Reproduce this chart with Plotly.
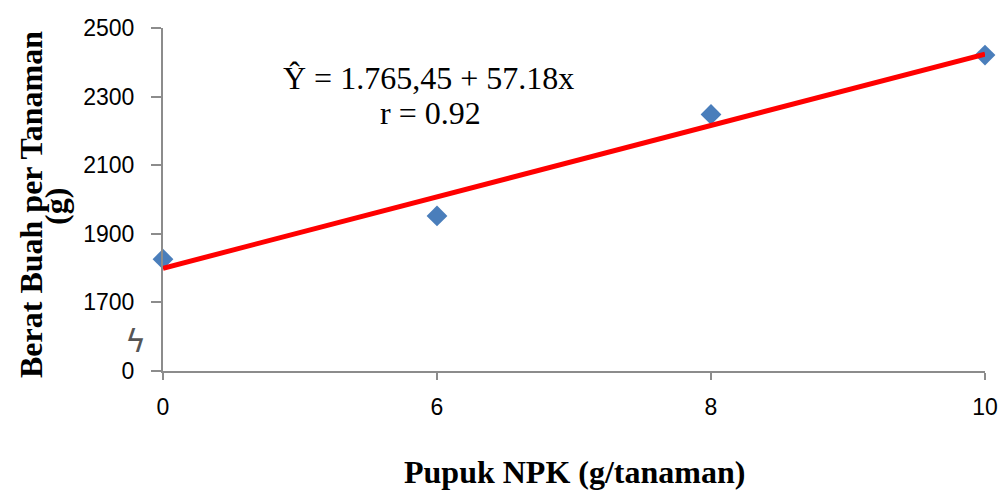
import numpy as np
import plotly.graph_objects as go

# Data
npk_categories = ["0", "6", "8", "10"]
berat_buah = [1826, 1952, 2248, 2421]
y_tick_values = [1500, 1700, 1900, 2100, 2300, 2500]
y_tick_labels = ["0", "1700", "1900", "2100", "2300", "2500"]
equation_text = "Ŷ = 1.765,45 + 57.18x"
r_text = "r = 0.92"

x_pos = list(range(len(npk_categories)))
slope, intercept = np.polyfit(x_pos, berat_buah, 1)
trend_y = [intercept + slope * x for x in x_pos]

fig = go.Figure()
fig.add_trace(go.Scatter(
    x=x_pos, y=berat_buah, mode="markers",
    marker=dict(symbol="diamond", size=16, color="#4a7ebb",
                line=dict(width=0)),
    cliponaxis=False, showlegend=False,
))
fig.add_trace(go.Scatter(
    x=[x_pos[0], x_pos[-1]], y=[trend_y[0], trend_y[-1]], mode="lines",
    line=dict(color="#ff0000", width=5),
    cliponaxis=False, showlegend=False,
))

serif = "Liberation Serif, Times New Roman, serif"
sans = "Liberation Sans, Arial, sans-serif"
tick_font = dict(family=sans, size=23, color="black")

fig.update_layout(
    width=1001, height=490,
    margin=dict(l=163, r=16, t=28, b=119, autoexpand=False),
    plot_bgcolor="white", paper_bgcolor="white",
    font=dict(family=sans, size=23, color="black"),
)
fig.update_xaxes(
    range=[0, 3], tickmode="array", tickvals=x_pos, ticktext=npk_categories,
    automargin=False,
    showgrid=False, zeroline=False, showline=True,
    linecolor="#8c8c8c", linewidth=2,
    ticks="outside", ticklen=7, tickwidth=2, tickcolor="#8c8c8c",
    tickfont=tick_font,
    ticklabelstandoff=7,
)
fig.update_yaxes(
    range=[1500, 2500], tickmode="array", tickvals=y_tick_values,
    ticktext=y_tick_labels,
    automargin=False,
    showgrid=False, zeroline=False, showline=True,
    linecolor="#8c8c8c", linewidth=2,
    ticks="outside", ticklen=10, tickwidth=2, tickcolor="#8c8c8c",
    tickfont=tick_font,
    ticklabelstandoff=12,
)

annotations = [
    dict(text=equation_text, x=(428 - 163) / 822, y=(371 - 78) / 343,
         font=dict(family=serif, size=32, color="black")),
    dict(text=r_text, x=(430 - 163) / 822, y=(371 - 113) / 343,
         font=dict(family=serif, size=32, color="black")),
    dict(text="<b>Pupuk NPK (g/tanaman)</b>",
         x=(574 - 163) / 822, y=(371 - 472) / 343,
         font=dict(family=serif, size=32, color="black")),
    dict(text="<b>Berat Buah per Tanaman</b>",
         x=(31 - 163) / 822, y=(371 - 205) / 343, textangle=-90,
         font=dict(family=serif, size=32, color="black")),
    dict(text="<b>(g)</b>",
         x=(56 - 163) / 822, y=(371 - 207) / 343, textangle=-90,
         font=dict(family=serif, size=32, color="black")),
    dict(text="ϟ", x=(135 - 163) / 822, y=(371 - 341) / 343,
         font=dict(family="DejaVu Sans", size=32, color="#555555")),
]
for a in annotations:
    fig.add_annotation(xref="paper", yref="paper", showarrow=False,
                       xanchor="center", yanchor="middle", **a)

fig.write_html("out.html", config={"displayModeBar": False},
               post_script="document.body.style.margin='0';")
